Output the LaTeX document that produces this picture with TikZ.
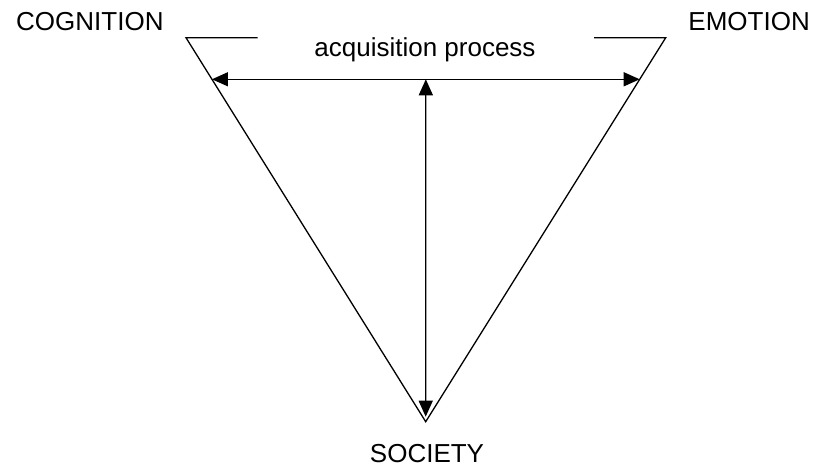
\documentclass[tikz,border=0pt]{standalone}
\usepackage{fontspec}
\setmainfont{Liberation Sans}
\usetikzlibrary{arrows.meta,calc}
\begin{document}
\begin{tikzpicture}[x=1pt,y=1pt,
  edge/.style={line width=1.3pt},
  dblarrow/.style={line width=1.3pt,{Triangle[length=16pt,width=14pt]}-{Triangle[length=16pt,width=14pt]}},
  lbl/.style={inner sep=0pt,font=\fontsize{26}{31}\selectfont}]
\useasboundingbox (0,0) rectangle (814,-468);
\coordinate (A) at (186,-37.7);
\coordinate (B) at (665.7,-37.7);
\coordinate (C) at (425.7,-421.7);
\coordinate (G1) at (257.7,-37.7);
\coordinate (G2) at (594,-37.7);
\coordinate (L) at ($(A)!0.1083!(C)$);
\coordinate (R) at ($(B)!0.1083!(C)$);
\coordinate (M) at ($(L)!0.5!(R)$);
\coordinate (Cs) at ($(C)+(0,5)$);
\draw[edge,line join=miter] (G1) -- (A) -- (C) -- (B) -- (G2);
\draw[dblarrow] (L) -- (R);
\draw[dblarrow] (M) -- (Cs);
\node[lbl,anchor=base west] (cog) at (16,-31) {COGNITION};
\node[lbl,anchor=base east] (emo) at (810,-31) {EMOTION};
\node[lbl,anchor=base] (acq) at (425,-57) {acquisition process};
\node[lbl,anchor=base] (soc) at (427,-462) {SOCIETY};
\end{tikzpicture}
\end{document}
